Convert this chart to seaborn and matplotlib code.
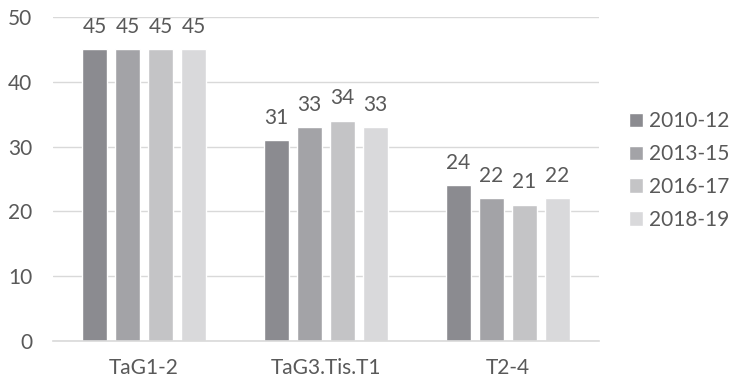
import matplotlib
matplotlib.use("Agg")
import matplotlib.pyplot as plt
import seaborn as sns
import pandas as pd

categories = ["TaG1-2", "TaG3.Tis.T1", "T2-4"]
periods = ["2010-12", "2013-15", "2016-17", "2018-19"]
values = {
    "2010-12": [45, 31, 24],
    "2013-15": [45, 33, 22],
    "2016-17": [45, 34, 21],
    "2018-19": [45, 33, 22],
}
colors = ["#8b8b90", "#a3a3a7", "#c4c4c6", "#d9d9db"]

rows = []
for p in periods:
    for c, v in zip(categories, values[p]):
        rows.append({"category": c, "period": p, "value": v})
df = pd.DataFrame(rows)

sns.set_theme(style="white")
plt.rcParams["font.family"] = ["Lato", "DejaVu Sans"]
text_color = "#595959"
fs = 15

fig = plt.figure(figsize=(7.3, 3.81), dpi=100)
ax = fig.add_axes([53 / 730, 40 / 381, 546 / 730, 324 / 381])

sns.barplot(data=df, x="category", y="value", hue="period", order=categories,
            hue_order=periods, palette=colors, width=0.726, gap=0.24,
            saturation=1, ax=ax, legend=True)

for cont in ax.containers:
    ax.bar_label(cont, fmt="%d", padding=9, fontsize=fs, color=text_color)

ax.set_ylim(0, 50)
ax.set_yticks(range(0, 51, 10))
ax.set_xlim(-0.5, 2.5)
ax.set_xlabel("")
ax.set_ylabel("")
ax.yaxis.grid(True, color="#d9d9d9", linewidth=1)
ax.set_axisbelow(True)
for s in ["top", "right", "left"]:
    ax.spines[s].set_visible(False)
ax.spines["bottom"].set_color("#d9d9d9")
ax.spines["bottom"].set_linewidth(1.2)
ax.tick_params(axis="both", length=0, labelsize=fs, labelcolor=text_color)
ax.tick_params(axis="y", pad=15)
ax.tick_params(axis="x", pad=12)

leg = ax.legend(loc="upper left", bbox_to_anchor=(629 / 730, 270 / 381),
                bbox_transform=fig.transFigure, frameon=False,
                fontsize=fs, handlelength=0.67, handleheight=0.67,
                handletextpad=0.3, labelspacing=0.62, borderaxespad=0,
                borderpad=0)
for t in leg.get_texts():
    t.set_color(text_color)

fig.savefig("out.png", dpi=100)
